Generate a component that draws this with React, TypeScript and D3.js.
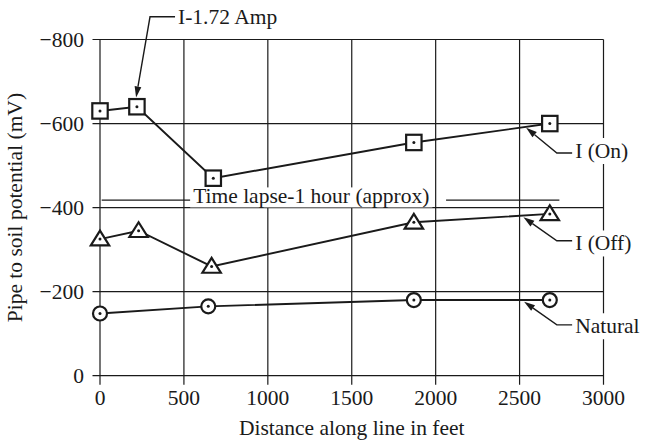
import { useEffect, useRef } from 'react';
import * as d3 from 'd3';

// distance along line (ft) and pipe-to-soil potential (mV)
const distOn = [0, 220, 675, 1870, 2680];
const potOn = [-630, -640, -470, -555, -600];
const distOff = [0, 230, 665, 1870, 2680];
const potOff = [-325, -345, -260, -365, -385];
const distNat = [0, 645, 1870, 2680];
const potNat = [-148, -165, -180, -180];

const xTicks = [0, 500, 1000, 1500, 2000, 2500, 3000];
const yTicks = [0, -200, -400, -600, -800];

// callout labels: text baseline, leader elbow and arrow tip, all in data units
const callouts = [
  { label: 'I-1.72 Amp', text: [465, -836], elbow: [298, -854], tip: [215, -662] },
  { label: 'I (On)', text: [2831, -518], elbow: [2722, -530], tip: [2539, -590] },
  { label: 'I (Off)', text: [2831, -298], elbow: [2722, -321], tip: [2523, -377] },
  { label: 'Natural', text: [2831, -101], elbow: [2722, -121], tip: [2527, -176] }
];

const lapseLabel = 'Time lapse-1 hour (approx)';
const lapseLevel = -418;
const lapseText = [1259, -410];
const lapseLeft = [10, 540];
const lapseRight = [2062, 2737];

export default function App() {
  const svgRef = useRef<SVGSVGElement>(null);

  useEffect(() => {
    const svg = d3.select(svgRef.current);
    svg.selectAll('*').remove();

    const width = 645;
    const height = 440;
    const margin = { top: 39.5, right: 41.5, bottom: 64.3, left: 100 };
    const ink = '#1a1a1a';
    const font = "'Liberation Serif', 'Times New Roman', serif";
    const fs = 21.5;

    const x = d3.scaleLinear()
      .domain([0, 3000])
      .range([margin.left, width - margin.right]);

    const y = d3.scaleLinear()
      .domain([0, -800])
      .range([height - margin.bottom, margin.top]);

    svg.attr('width', width).attr('height', height)
      .style('font-family', font);

    svg.append('rect')
      .attr('width', width).attr('height', height)
      .attr('fill', '#fff');

    // grid
    const grid = svg.append('g').attr('stroke', ink).attr('stroke-width', 1.2);
    grid.selectAll('.vg')
      .data(xTicks)
      .join('line')
      .attr('x1', d => x(d)).attr('x2', d => x(d))
      .attr('y1', y(-800)).attr('y2', y(0) + 9);
    grid.selectAll('.hg')
      .data(yTicks)
      .join('line')
      .attr('x1', x(0) - 7.5).attr('x2', x(3000))
      .attr('y1', d => y(d)).attr('y2', d => y(d));

    // tick labels
    svg.append('g')
      .selectAll('text')
      .data(xTicks)
      .join('text')
      .attr('x', d => x(d))
      .attr('y', y(0) + 29.5)
      .attr('text-anchor', 'middle')
      .style('font-size', `${fs}px`)
      .attr('fill', ink)
      .text(d => d);

    svg.append('g')
      .selectAll('text')
      .data(yTicks)
      .join('text')
      .attr('x', x(0) - 16)
      .attr('y', d => y(d))
      .attr('dy', '0.35em')
      .attr('text-anchor', 'end')
      .style('font-size', `${fs}px`)
      .attr('fill', ink)
      .text(d => (d === 0 ? '0' : `\u2212${Math.abs(d)}`));

    svg.append('text')
      .attr('x', (x(0) + x(3000)) / 2)
      .attr('y', 435)
      .attr('text-anchor', 'middle')
      .style('font-size', `${fs}px`)
      .attr('fill', ink)
      .text('Distance along line in feet');

    svg.append('text')
      .attr('transform', `translate(22,${(y(0) + y(-800)) / 2}) rotate(-90)`)
      .attr('text-anchor', 'middle')
      .style('font-size', `${fs}px`)
      .attr('fill', ink)
      .text('Pipe to soil potential (mV)');

    // time lapse note
    const lapse = svg.append('g');
    lapse.append('line')
      .attr('x1', x(lapseLeft[0])).attr('x2', x(lapseLeft[1]))
      .attr('y1', y(lapseLevel)).attr('y2', y(lapseLevel))
      .attr('stroke', ink).attr('stroke-width', 1.2);
    lapse.append('line')
      .attr('x1', x(lapseRight[0])).attr('x2', x(lapseRight[1]))
      .attr('y1', y(lapseLevel)).attr('y2', y(lapseLevel))
      .attr('stroke', ink).attr('stroke-width', 1.2);
    const lt = lapse.append('text')
      .attr('x', x(lapseText[0]))
      .attr('y', y(lapseText[1]))
      .attr('text-anchor', 'middle')
      .style('font-size', `${fs}px`)
      .attr('fill', ink)
      .text(lapseLabel);
    const lb = (lt.node() as SVGTextElement).getBBox();
    lapse.insert('rect', 'text')
      .attr('x', lb.x - 3).attr('y', lb.y + 3)
      .attr('width', lb.width + 6).attr('height', lb.height - 4)
      .attr('fill', '#fff');

    // series lines
    const line = d3.line<[number, number]>()
      .x(d => x(d[0]))
      .y(d => y(d[1]));

    const series = [
      { dist: distOn, pot: potOn, shape: 'square' },
      { dist: distOff, pot: potOff, shape: 'triangle' },
      { dist: distNat, pot: potNat, shape: 'circle' }
    ];

    series.forEach(s => {
      const pts = s.dist.map((d, i) => [d, s.pot[i]] as [number, number]);
      svg.append('path')
        .attr('d', line(pts))
        .attr('fill', 'none')
        .attr('stroke', ink)
        .attr('stroke-width', 1.9);

      const mk = svg.append('g');
      pts.forEach(p => {
        const cx = x(p[0]);
        const cy = y(p[1]);
        if (s.shape === 'square') {
          mk.append('rect')
            .attr('x', cx - 7.7).attr('y', cy - 7.7)
            .attr('width', 15.4).attr('height', 15.4)
            .attr('fill', '#fff').attr('stroke', ink).attr('stroke-width', 2.2);
        } else if (s.shape === 'triangle') {
          mk.append('path')
            .attr('d', `M${cx},${cy - 8.5}L${cx + 9.2},${cy + 6.3}L${cx - 9.2},${cy + 6.3}Z`)
            .attr('fill', '#fff').attr('stroke', ink).attr('stroke-width', 2.2)
            .attr('stroke-linejoin', 'miter');
        } else {
          mk.append('circle')
            .attr('cx', cx).attr('cy', cy).attr('r', 7)
            .attr('fill', '#fff').attr('stroke', ink).attr('stroke-width', 2.2);
        }
        mk.append('circle')
          .attr('cx', cx).attr('cy', cy).attr('r', 1.5)
          .attr('fill', ink);
      });
    });

    // callouts
    callouts.forEach(c => {
      const g = svg.append('g');
      const tx = x(c.text[0]);
      const ty = y(c.text[1]);
      const ex = x(c.elbow[0]);
      const ey = y(c.elbow[1]);
      const px = x(c.tip[0]);
      const py = y(c.tip[1]);

      const t = g.append('text')
        .attr('x', tx).attr('y', ty)
        .style('font-size', `${fs}px`)
        .attr('fill', ink)
        .text(c.label);
      const b = (t.node() as SVGTextElement).getBBox();
      g.insert('rect', 'text')
        .attr('x', b.x - 2).attr('y', b.y - 1)
        .attr('width', b.width + 4).attr('height', b.height + 2)
        .attr('fill', '#fff');

      const ang = Math.atan2(py - ey, px - ex);
      const len = 11;
      const hw = 3.4;
      const bx = px - len * Math.cos(ang);
      const by = py - len * Math.sin(ang);

      g.append('path')
        .attr('d', `M${tx - 3},${ey}L${ex},${ey}L${bx},${by}`)
        .attr('fill', 'none')
        .attr('stroke', ink)
        .attr('stroke-width', 1.4);

      g.append('path')
        .attr('d', `M${px},${py}L${bx + hw * Math.sin(ang)},${by - hw * Math.cos(ang)}L${bx - hw * Math.sin(ang)},${by + hw * Math.cos(ang)}Z`)
        .attr('fill', ink);
    });
  }, []);

  return (
    <div style={{ position: 'absolute', top: 0, left: 0 }}>
      <svg ref={svgRef} style={{ display: 'block' }}></svg>
    </div>
  );
}
